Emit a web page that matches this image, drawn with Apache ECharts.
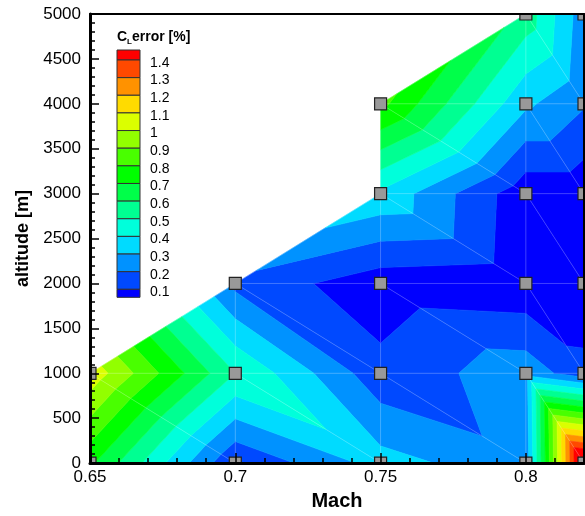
<!DOCTYPE html>
<html>
<head>
<meta charset="utf-8">
<script src="https://cdn.jsdelivr.net/npm/echarts@6/dist/echarts.min.js"></script>
<style>
  html, body { margin: 0; padding: 0; background: #fff; }
  #chart { width: 585px; height: 516px; }
</style>
</head>
<body>
<div id="chart"></div>
<script>
// sample nodes (Mach, altitude, CL error %)
const machNodes = [0.65, 0.65, 0.70, 0.70, 0.70, 0.75, 0.75, 0.75, 0.75, 0.75,
  0.80, 0.80, 0.80, 0.80, 0.80, 0.80, 0.82, 0.82, 0.82, 0.82, 0.82, 0.82]
const altNodes = [0, 1000, 0, 1000, 2000, 0, 1000, 2000, 3000, 4000,
  0, 1000, 2000, 3000, 4000, 5000, 0, 1000, 2000, 3000, 4000, 5000]
const errNodes = [0.72, 1.07, 0.105, 0.50, 0.17, 0.34, 0.13, 0.04, 0.38, 0.83,
  0.23, 0.26, 0.02, 0.03, 0.32, 0.56, 1.64, 0.135, 0.01, 0.03, 0.21, 0.24]

// mesh connectivity (node indices)
const triangles = [
  [0, 2, 1], [1, 2, 3], [1, 3, 4],
  [2, 5, 3], [3, 5, 6], [3, 6, 4], [4, 6, 7], [4, 7, 8],
  [5, 10, 6], [6, 10, 11], [6, 11, 7], [7, 11, 12], [7, 12, 8], [8, 12, 13],
  [8, 13, 9], [9, 13, 14], [9, 14, 15],
  [10, 16, 11], [11, 16, 17], [11, 17, 12], [12, 17, 18], [12, 18, 13], [13, 18, 19],
  [13, 19, 14], [14, 19, 20], [14, 20, 15], [15, 20, 21]
]

// contour levels and flood colours (one more colour than levels)
const levels = [0.1, 0.2, 0.3, 0.4, 0.5, 0.6, 0.7, 0.8, 0.9, 1, 1.1, 1.2, 1.3, 1.4]
const bandColors = ['#0000ff', '#0049ff', '#0092ff', '#00dbff', '#00ffdb', '#00ff92', '#00ff49',
  '#00ff00', '#49ff00', '#92ff00', '#dbff00', '#ffdb00', '#ff9200', '#ff4900', '#ff0000']

const FONT = '"Liberation Sans", Arial, Helvetica, sans-serif'

// keep the part of a polygon above (or below) a level, value in p[2]
function clipPoly(poly, level, above) {
  const out = []
  for (let i = 0; i < poly.length; i++) {
    const a = poly[i]
    const b = poly[(i + 1) % poly.length]
    const ina = above ? a[2] >= level : a[2] <= level
    const inb = above ? b[2] >= level : b[2] <= level
    if (ina) out.push(a)
    if (ina !== inb) {
      const t = (level - a[2]) / (b[2] - a[2])
      out.push([a[0] + t * (b[0] - a[0]), a[1] + t * (b[1] - a[1]), level])
    }
  }
  return out
}

// unique mesh edges
const edges = []
const seen = {}
triangles.forEach(t => {
  for (let k = 0; k < 3; k++) {
    const a = Math.min(t[k], t[(k + 1) % 3])
    const b = Math.max(t[k], t[(k + 1) % 3])
    if (!seen[a + '-' + b]) {
      seen[a + '-' + b] = true
      edges.push([machNodes[a], altNodes[a], machNodes[b], altNodes[b]])
    }
  }
})

const triData = triangles.map(t => [
  (machNodes[t[0]] + machNodes[t[1]] + machNodes[t[2]]) / 3,
  (altNodes[t[0]] + altNodes[t[1]] + altNodes[t[2]]) / 3,
  t[0], t[1], t[2]
])

// legend drawn as Tecplot style boxes
const legendX = 117
const legendTop = 50
const boxW = 23
const stepH = 17.64
const endH = 9
const legendEls = []
const nb = bandColors.length
for (let b = nb - 1; b >= 0; b--) {
  const row = nb - 1 - b
  let y, h
  if (row === 0) { y = legendTop; h = endH + 1 }
  else { y = legendTop + endH + 1 + (row - 1) * stepH; h = row === nb - 1 ? endH - 1 : stepH }
  legendEls.push({
    type: 'rect', shape: { x: legendX, y: y, width: boxW, height: h },
    style: { fill: bandColors[b], stroke: '#333', lineWidth: 1 }
  })
}
levels.forEach((lv, i) => {
  const row = levels.length - 1 - i
  const y = legendTop + endH + 1 + row * stepH
  legendEls.push({
    type: 'text', x: 150, y: y + 3,
    style: { text: String(lv), font: '14px ' + FONT, fill: '#000', verticalAlign: 'middle' }
  })
})
legendEls.push(
  { type: 'text', x: legendX, y: 37, style: { text: 'C', font: 'bold 14px ' + FONT, fill: '#000', verticalAlign: 'middle' } },
  { type: 'text', x: 127, y: 42, style: { text: 'L', font: 'bold 8px ' + FONT, fill: '#000', verticalAlign: 'middle' } },
  { type: 'text', x: 132, y: 37, style: { text: 'error [%]', font: 'bold 14px ' + FONT, fill: '#000', verticalAlign: 'middle' } }
)

const chart = echarts.init(document.getElementById('chart'), null, { renderer: 'canvas' })

const tickStyle = { color: '#000', width: 1.5 }

chart.setOption({
  backgroundColor: '#fff',
  animation: false,
  grid: { left: 90, top: 14, width: 494, height: 452, containLabel: false },
  xAxis: [
    {
      type: 'value', min: 0.65, max: 0.82, interval: 0.05, position: 'bottom', z: 10,
      name: 'Mach', nameLocation: 'middle', nameGap: 27,
      nameTextStyle: { fontFamily: FONT, fontWeight: 'bold', fontSize: 20, color: '#000' },
      axisLine: { onZero: false, lineStyle: { color: '#000', width: 3 } },
      axisTick: { inside: true, length: 10, lineStyle: tickStyle },
      axisLabel: { fontFamily: FONT, fontSize: 17, color: '#000', margin: 6, showMaxLabel: false },
      splitLine: { show: false }
    },
    {
      type: 'value', min: 0.65, max: 0.82, interval: 0.01, position: 'bottom', z: 10,
      axisLine: { show: false, onZero: false },
      axisTick: { inside: true, length: 5, lineStyle: tickStyle },
      axisLabel: { show: false },
      splitLine: { show: false }
    },
    {
      type: 'value', min: 0.65, max: 0.82, position: 'top', z: 10,
      axisLine: { onZero: false, lineStyle: { color: '#000', width: 2 } },
      axisTick: { show: false }, axisLabel: { show: false }, splitLine: { show: false }
    }
  ],
  yAxis: [
    {
      type: 'value', min: 0, max: 5000, interval: 500, position: 'left', z: 10,
      name: 'altitude [m]', nameLocation: 'middle', nameGap: 52,
      nameTextStyle: { fontFamily: FONT, fontWeight: 'bold', fontSize: 18, color: '#000' },
      axisLine: { onZero: false, lineStyle: { color: '#000', width: 3 } },
      axisTick: { inside: true, length: 9, lineStyle: tickStyle },
      minorTick: { show: true, splitNumber: 5, length: 5, lineStyle: tickStyle },
      axisLabel: { fontFamily: FONT, fontSize: 17, color: '#000', margin: 9, formatter: v => String(v) },
      splitLine: { show: false }
    },
    {
      type: 'value', min: 0, max: 5000, position: 'right', z: 10,
      axisLine: { onZero: false, lineStyle: { color: '#000', width: 2 } },
      axisTick: { show: false }, axisLabel: { show: false }, splitLine: { show: false }
    }
  ],
  graphic: legendEls,
  series: [
    {
      // flooded contour bands, one item per triangle
      type: 'custom', silent: true, z: 2,
      data: triData,
      renderItem: function (params, api) {
        const tri = [api.value(2), api.value(3), api.value(4)].map(n => {
          const p = api.coord([machNodes[n], altNodes[n]])
          return [p[0], p[1], errNodes[n]]
        })
        const children = []
        for (let b = 0; b < bandColors.length; b++) {
          let poly = tri
          if (b > 0) poly = clipPoly(poly, levels[b - 1], true)
          if (poly.length >= 3 && b < levels.length) poly = clipPoly(poly, levels[b], false)
          if (poly.length < 3) continue
          children.push({
            type: 'polygon',
            shape: { points: poly.map(p => [p[0], p[1]]) },
            style: { fill: bandColors[b], stroke: bandColors[b], lineWidth: 0.6 }
          })
        }
        return { type: 'group', children: children }
      }
    },
    {
      // mesh lines
      type: 'custom', silent: true, z: 3,
      data: edges,
      renderItem: function (params, api) {
        const a = api.coord([api.value(0), api.value(1)])
        const b = api.coord([api.value(2), api.value(3)])
        return {
          type: 'line',
          shape: { x1: a[0], y1: a[1], x2: b[0], y2: b[1] },
          style: { stroke: 'rgba(255,255,255,0.22)', lineWidth: 1 }
        }
      }
    },
    {
      // sample points
      type: 'custom', silent: true, z: 4,
      data: machNodes.map((m, i) => [m, altNodes[i]]),
      renderItem: function (params, api) {
        const p = api.coord([api.value(0), api.value(1)])
        const r = echarts.graphic.clipRectByRect(
          { x: p[0] - 6, y: p[1] - 6, width: 12, height: 12 },
          { x: params.coordSys.x, y: params.coordSys.y, width: params.coordSys.width, height: params.coordSys.height }
        )
        if (!r) return
        return {
          type: 'rect', shape: r,
          style: { fill: '#999', stroke: '#222', lineWidth: 1.2 }
        }
      }
    }
  ]
})
</script>
</body>
</html>
